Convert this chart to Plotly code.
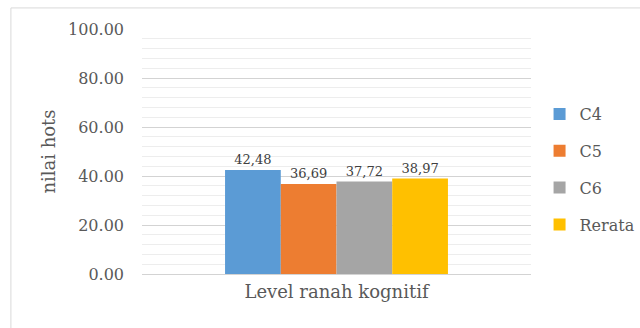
import plotly.graph_objects as go

category = ["Level ranah kognitif"]
series_names = ["C4", "C5", "C6", "Rerata"]
series_values = [42.48, 36.69, 37.72, 38.97]
series_colors = ["#5B9BD5", "#ED7D31", "#A5A5A5", "#FFC000"]
y_ticks = [0, 20, 40, 60, 80, 100]
y_tick_labels = ["0.00", "20.00", "40.00", "60.00", "80.00", "100.00"]

FONT = "DejaVu Serif"
fig = go.Figure()
for i, (name, val, col) in enumerate(zip(series_names, series_values, series_colors)):
    fig.add_trace(go.Bar(
        x=category, y=[val], name=name, marker_color=col, marker_line_width=0,
        text=[f"{val:.2f}".replace(".", ",")], textposition="outside",
        textfont=dict(family=FONT, size=13, color="#404040"),
        cliponaxis=False, legendgroup=name,
    ))

fig.update_layout(
    width=640, height=328,
    margin=dict(l=142, r=109, t=29, b=54, autoexpand=False),
    paper_bgcolor="white", plot_bgcolor="white",
    barmode="group", bargap=0.427, bargroupgap=0,
    font=dict(family=FONT, color="#595959"),
    showlegend=True,
    legend=dict(x=1.022, xanchor="left", y=0.722, yanchor="top",
                font=dict(family=FONT, size=16, color="#595959"),
                tracegroupgap=13, bgcolor="rgba(0,0,0,0)", itemwidth=30),
)
fig.update_yaxes(
    range=[0, 100], tickvals=y_ticks, ticktext=y_tick_labels,
    tickfont=dict(family=FONT, size=16, color="#595959"),
    showgrid=True, gridcolor="#D3D3D3", gridwidth=1,
    minor=dict(dtick=4, showgrid=True, gridcolor="#EDEDED", gridwidth=1),
    zeroline=False, showline=False, ticklabelstandoff=17,
    title=dict(text="nilai hots", font=dict(family=FONT, size=18, color="#595959"), standoff=7),
)
fig.update_xaxes(
    showline=True, linecolor="#D3D3D3", linewidth=1,
    tickfont=dict(family=FONT, size=18, color="#595959"),
    ticks="", showgrid=False, ticklabelstandoff=1,
)
fig.add_shape(type="rect", xref="paper", yref="paper",
              x0=-0.337, x1=1.6, y0=-0.6, y1=1.086,
              line=dict(color="#D9D9D9", width=1), fillcolor="rgba(0,0,0,0)", layer="below")
fig.write_html("out.html")
